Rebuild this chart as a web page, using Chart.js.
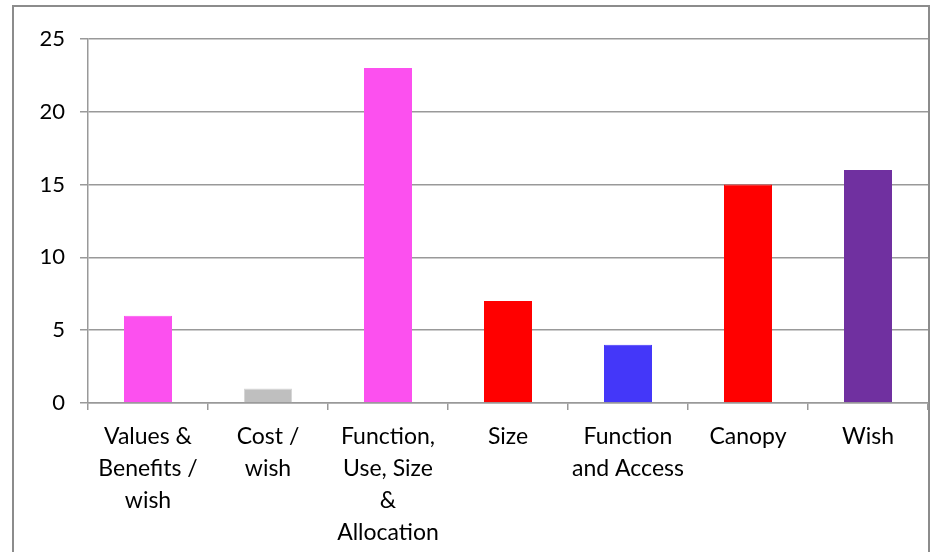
<!DOCTYPE html>
<html>
<head>
<meta charset="utf-8">
<script src="https://cdn.jsdelivr.net/npm/chart.js@4.4.1/dist/chart.umd.min.js"></script>
<style>
  body { margin: 0; background: #fff; }
  #wrap { width: 931px; height: 552px; position: relative; }
</style>
</head>
<body>
<div id="wrap"><canvas id="myChart" width="931" height="552"></canvas></div>
<script>
// categories and counts
var categories = [
	["Values &", "Benefits /", "wish"],
	["Cost /", "wish"],
	["Function,", "Use, Size", "&", "Allocation"],
	["Size"],
	["Function", "and Access"],
	["Canopy"],
	["Wish"]
];
var counts = [6, 1, 23, 7, 4, 15, 16];
var barColors = ["#fc50ef", "#bfbfbf", "#fc50ef", "#ff0000", "#4437f9", "#ff0000", "#7030a0"];
var edgeColors = ["#fc50ef", "#d6d6d6", "#fc50ef", "#ff0000", "#4437f9", "#ff0000", "#7030a0"];
var yTicks = [0, 5, 10, 15, 20, 25];

// outer frame round the whole chart
const framePlugin = {
	id: 'frame',
	beforeDraw(chart) {
		const ctx = chart.ctx;
		ctx.save();
		ctx.fillStyle = '#fff';
		ctx.fillRect(0, 0, chart.width, chart.height);
		ctx.strokeStyle = '#8c8c8c';
		ctx.lineWidth = 2;
		ctx.strokeRect(13, 6, 916, 600);
		ctx.restore();
	}
};

new Chart(document.getElementById('myChart'), {
	type: 'bar',
	data: {
		labels: categories,
		datasets: [{
			data: counts,
			backgroundColor: barColors,
			borderColor: edgeColors,
			borderWidth: 1,
			barPercentage: 0.4,
			categoryPercentage: 1.0
		}]
	},
	options: {
		responsive: false,
		animation: false,
		layout: { padding: { left: 13, right: 3, top: 39, bottom: 0 } },
		plugins: {
			legend: { display: false },
			tooltip: { enabled: false }
		},
		scales: {
			x: {
				offset: true,
				afterFit: function(scale) { scale.height = 149; },
				grid: {
					offset: true,
					drawOnChartArea: false,
					drawTicks: true,
					tickLength: 7,
					color: '#999999',
					lineWidth: 1.5
				},
				border: { color: '#999999', width: 1.5 },
				ticks: {
					color: '#000',
					maxRotation: 0,
					autoSkip: false,
					padding: 11,
					font: { family: 'Lato, "Open Sans", sans-serif', size: 23, lineHeight: 1.39 }
				}
			},
			y: {
				min: 0,
				max: 25,
				afterFit: function(scale) { scale.width = 75; },
				afterBuildTicks: function(scale) { scale.ticks = yTicks.map(v => ({ value: v })); },
				grid: {
					color: '#999999',
					lineWidth: 1.5,
					tickLength: 8
				},
				border: { color: '#999999', width: 1.5 },
				ticks: {
					color: '#000',
					padding: 15,
					font: { family: 'Lato, "Open Sans", sans-serif', size: 22 }
				}
			}
		}
	},
	plugins: [framePlugin]
});
</script>
</body>
</html>
